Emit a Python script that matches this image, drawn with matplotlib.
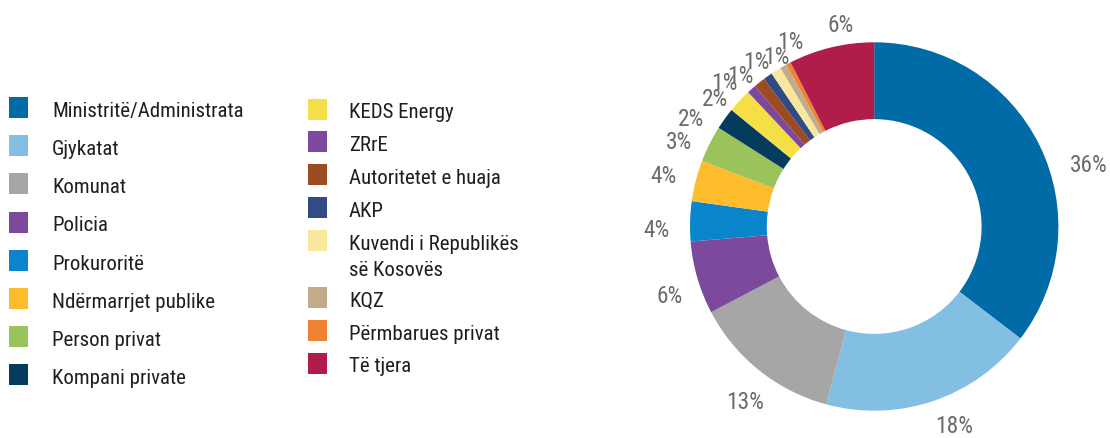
import numpy as np
import matplotlib
matplotlib.use("Agg")
import matplotlib.pyplot as plt
from matplotlib import font_manager
from matplotlib.font_manager import FontProperties
from matplotlib.patches import Rectangle
import os

# ---------------- data ----------------
categories = [
    "Ministritë/Administrata", "Gjykatat", "Komunat", "Policia", "Prokuroritë",
    "Ndërmarrjet publike", "Person privat", "Kompani private",
    "KEDS Energy", "ZRrE", "Autoritetet e huaja", "AKP",
    "Kuvendi i Republikës\nsë Kosovës", "KQZ", "Përmbarues privat", "Të tjera",
]
shares = [35.4, 18.8, 13.1, 6.4, 3.5, 3.6, 3.2, 1.9,
          2.1, 0.8, 1.0, 0.8, 0.9, 0.6, 0.4, 7.5]
value_labels = ["36%", "18%", "13%", "6%", "4%", "4%", "3%", "2%",
                "2%", "1%", "1%", "1%", "1%", "", "1%", "6%"]
colors = ["#006ba6", "#83bfe2", "#a6a6a6", "#7c4a9c", "#0a85cb", "#fdbc2b",
          "#9ac45b", "#053b5c", "#f5df47", "#7e489e", "#9d4b23", "#324b84",
          "#f8e89e", "#c1ab8b", "#ef8133", "#b01d4a"]

# label placement tweaks (style): angle nudge in degrees, radius factor
label_nudge = [-10.2, 3.2, 2.3, 2.4, 2.4, 0.7, 3.0, 5.3,
               4.2, 4.3, 2.9, 0.2, -2.4, 0.0, -3.4, -4.0]
label_rad = [1.215, 1.165, 1.18, 1.17, 1.18, 1.175, 1.157, 1.157,
             1.11, 1.13, 1.095, 1.10, 1.065, 1.10, 1.10, 1.11]

# ---------------- fonts: prefer a condensed sans ----------------
prefs = ["liberationsansnarrow-regular", "robotocondensed-regular",
         "opensans_condensed-regular", "opensans-condensedregular",
         "notosans-condensed.", "notosans-condensedregular",
         "dejavusanscondensed."]
cands = {}
for f in font_manager.fontManager.ttflist:
    base = os.path.basename(f.fname).lower()
    cands.setdefault(base, f.fname)
chosen = None
for p in prefs:
    for base, path in cands.items():
        if base.startswith(p) or base.replace(" ", "").startswith(p):
            chosen = path
            break
    if chosen:
        break
if chosen is None:
    for base, path in cands.items():
        if ("condensed" in base or "narrow" in base) and not any(
                k in base for k in ("bold", "italic", "light", "thin", "black",
                                    "medium", "semi", "extra", "oblique")):
            chosen = path
            break

if chosen:
    FP = FontProperties(fname=chosen)
    condensed = True
else:
    FP = FontProperties(family="Roboto")
    condensed = False

W, H = 1110, 439
fig = plt.figure(figsize=(W / 100, H / 100), dpi=100)
renderer = fig.canvas.get_renderer()

def text_width(s, size):
    t = fig.text(0, 0, s, fontproperties=FP, fontsize=size)
    w = t.get_window_extent(renderer).width
    t.remove()
    return w

w10 = text_width("Ministritë/Administrata", 10)
fit = 10 * 181.0 / w10
FS_LEG = fit * (1.05 if condensed else 1.08)
FS_LAB = FS_LEG * 1.12

# ---------------- donut ----------------
cx, cy, R = 874.2, 227.5, 184.2
ax = fig.add_axes([(cx - R) / W, 1 - (cy + R) / H, 2 * R / W, 2 * R / H])
wedges, _ = ax.pie(shares, colors=colors, startangle=90, counterclock=False,
                   radius=1.0, wedgeprops=dict(width=0.417, linewidth=0))
ax.set_aspect("auto")
ax.set_xlim(-1, 1)
ax.set_ylim(-1, 1)
ax.axis("off")

for w, lab, nd, rf in zip(wedges, value_labels, label_nudge, label_rad):
    if not lab:
        continue
    mid = np.deg2rad((w.theta1 + w.theta2) / 2 + nd)
    ax.text(rf * np.cos(mid), rf * np.sin(mid), lab, ha="center", va="center",
            fontproperties=FP, fontsize=FS_LAB, color="#6b6b6b", clip_on=False)

# ---------------- legend ----------------
lg = fig.add_axes([0, 0, 1, 1])
lg.set_xlim(0, W)
lg.set_ylim(H, 0)
lg.axis("off")
lg.patch.set_alpha(0)

col_x = [8.5, 307.5]
text_x = [52, 349]
row_start = [108.5, 110]
row_step = [38.2, 32.8]
line_gap = 26.7
extra_line = 24.5
sq_w, sq_h = 19.3, 21.0
n_first = 8

for ci in range(2):
    items = range(0, n_first) if ci == 0 else range(n_first, len(categories))
    y = row_start[ci]
    for i in items:
        lg.add_patch(Rectangle((col_x[ci], y - sq_h / 2), sq_w, sq_h,
                               facecolor=colors[i], edgecolor="none"))
        lines = categories[i].split("\n")
        for li, line in enumerate(lines):
            lg.text(text_x[ci], y + 8.3 + li * line_gap, line,
                    fontproperties=FP, fontsize=FS_LEG,
                    color="#1e1e1e", ha="left", va="baseline")
        y += row_step[ci] + (len(lines) - 1) * extra_line

fig.savefig("out.png", dpi=100)
